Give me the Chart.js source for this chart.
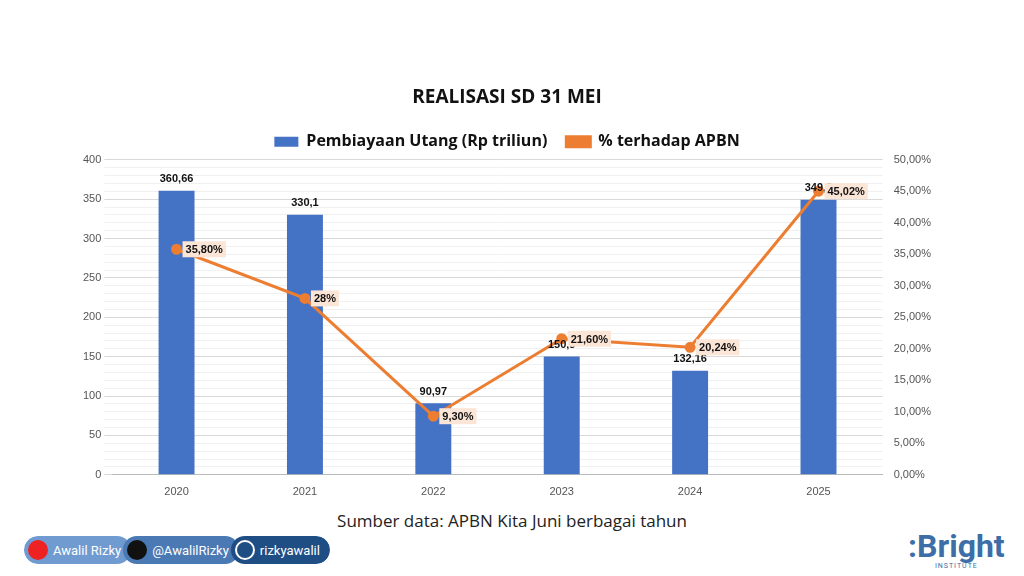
<!DOCTYPE html>
<html><head><meta charset="utf-8">
<script src="https://cdn.jsdelivr.net/npm/chart.js@4/dist/chart.umd.min.js"></script>
<style>
body{margin:0;background:#fff;font-family:Calibri,"Liberation Sans","Open Sans",sans-serif;}
#wrap{position:absolute;left:80px;top:86px;width:854px;height:416px;}
#src{position:absolute;left:0;width:1024px;top:509px;text-align:center;font-size:17px;color:#222;font-family:"Open Sans",sans-serif;}
#badges{position:absolute;left:24px;top:536px;height:28px;display:flex;border-radius:14px;overflow:hidden;font-family:Roboto,sans-serif;font-size:13px;color:#fff;}
#badges div{display:flex;align-items:center;padding:0 10px 0 4px;border-radius:14px;}
#badges span.ic{width:20px;height:20px;border-radius:10px;margin-right:5px;display:inline-block;}
#logo{position:absolute;left:908px;top:530px;font-family:Roboto,sans-serif;font-weight:bold;color:#3d6ea8;font-size:32px;line-height:32px;}
#logo small{display:block;font-size:7px;line-height:8px;text-align:center;letter-spacing:1px;font-weight:normal;}
</style></head>
<body>
<div id="wrap"><canvas id="c"></canvas></div>
<div id="src">Sumber data: APBN Kita Juni berbagai tahun</div>
<div id="badges">
 <div style="background:#6f9bd1"><span class="ic" style="background:#e22"></span>Awalil Rizky</div>
 <div style="background:#4a79b4;margin-left:-8px"><span class="ic" style="background:#111"></span>@AwalilRizky</div>
 <div style="background:#1f4e85;margin-left:-8px"><span class="ic" style="background:#1f4e85;border:2px solid #fff;width:16px;height:16px"></span>rizkyawalil</div>
</div>
<div id="logo">:Bright<small>INSTITUTE</small></div>
<script>
const years = ['2020','2021','2022','2023','2024','2025'];
const utang = [360.66, 330.1, 90.97, 150.3, 132.16, 349.3];
const utangLabels = ['360,66','330,1','90,97','150,3','132,16','349,3'];
const persen = [35.80, 28, 9.30, 21.60, 20.24, 45.02];
const persenLabels = ['35,80%','28%','9,30%','21,60%','20,24%','45,02%'];

const labelPlugin = {
  id: 'labels',
  afterDatasetsDraw(chart) {
    const ctx = chart.ctx;
    ctx.save();
    ctx.font = 'bold 11px "Liberation Sans", sans-serif';
    ctx.fillStyle = '#111';
    ctx.textAlign = 'center';
    ctx.textBaseline = 'bottom';
    chart.getDatasetMeta(0).data.forEach((b, i) => {
      ctx.fillText(utangLabels[i], b.x, b.y - 6);
    });
    ctx.textAlign = 'left';
    ctx.textBaseline = 'middle';
    chart.getDatasetMeta(1).data.forEach((p, i) => {
      const w = ctx.measureText(persenLabels[i]).width;
      ctx.fillStyle = '#fbe5d6';
      ctx.fillRect(p.x + 6, p.y - 8, w + 6, 16);
      ctx.fillStyle = '#111';
      ctx.fillText(persenLabels[i], p.x + 9, p.y + 1);
    });
    ctx.restore();
  }
};

new Chart(document.getElementById('c'), {
  data: {
    labels: years,
    datasets: [{
      type: 'bar', label: 'Pembiayaan Utang (Rp triliun)', data: utang,
      backgroundColor: '#4472c4', yAxisID: 'y', order: 2,
      barPercentage: 0.28, categoryPercentage: 1
    }, {
      type: 'line', label: '% terhadap APBN', data: persen,
      borderColor: '#ed7d31', backgroundColor: '#ed7d31', borderWidth: 3,
      pointRadius: 4, yAxisID: 'y1', order: 1
    }]
  },
  options: {
    responsive: true, maintainAspectRatio: false, animation: false,
    plugins: {
      title: { display: true, text: 'REALISASI SD 31 MEI', color: '#111',
        font: { size: 19, weight: 'bold', family: '"Open Sans", sans-serif' }, padding: { top: 0, bottom: 6 } },
      legend: { labels: { color: '#111', font: { size: 16, weight: 'bold', family: '"Open Sans", sans-serif' },
        boxWidth: 24, boxHeight: 10, padding: 19, sort: (a, b) => a.datasetIndex - b.datasetIndex } },
      tooltip: { enabled: false }
    },
    scales: {
      x: { grid: { display: false }, border: { color: '#bbb' },
        ticks: { color: '#555', font: { size: 11 } } },
      y: { min: 0, max: 400, position: 'left', border: { display: false },
        ticks: { stepSize: 10, autoSkip: false, color: '#555', font: { size: 11 },
          callback: v => v % 50 === 0 ? v : '' },
        grid: { color: ctx => ctx.tick && ctx.tick.value % 50 === 0 ? '#d9d9d9' : '#f0f0f0' } },
      y1: { min: 0, max: 50, position: 'right', border: { display: false },
        grid: { display: false },
        ticks: { stepSize: 5, color: '#555', font: { size: 11 },
          callback: v => v.toFixed(2).replace('.', ',') + '%' } }
    }
  },
  plugins: [labelPlugin]
});
</script>
</body></html>
